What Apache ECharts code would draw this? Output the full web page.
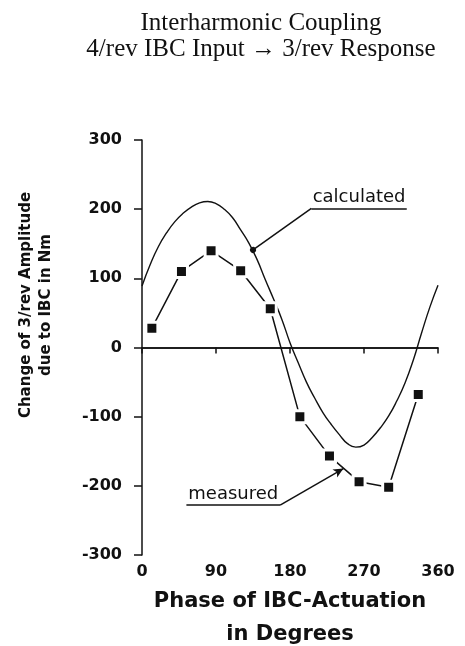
<!DOCTYPE html>
<html lang="en">
<head>
<meta charset="UTF-8">
<title>Interharmonic Coupling</title>
<style>
    html, body { margin: 0; padding: 0; background: #fff; }
    #main { width: 465px; height: 646px; }
</style>
</head>
<body>
<div id="main"></div>
<script src="https://cdn.jsdelivr.net/npm/echarts@6/dist/echarts.min.js"></script>
<script>
    // calculated curve, every 10 deg
    var calcPhase = [0, 10, 20, 30, 40, 50, 60, 70, 80, 90, 100, 110, 120,
        130, 140, 150, 160, 170, 180, 190, 200, 210, 220, 230, 240,
        250, 260, 270, 280, 290, 300, 310, 320, 330, 340, 350, 360];
    var calcValue = [89, 120, 146, 166, 182, 194, 203, 209, 211, 208, 200, 188, 170,
        151, 127, 98, 70, 41, 7, -22, -50, -73, -94, -111, -126,
        -139, -144, -141, -130, -116, -99, -77, -51, -18, 21, 58, 90];

    // measured points
    var measPhase = [12, 48, 84, 120, 156, 192, 228, 264, 300, 336];
    var measValue = [28, 110, 140, 111, 56, -100, -157, -194, -202, -68];

    var black = '#111';
    var sans = 'DejaVu Sans';

    function pairs(xs, ys) {
        return xs.map(function (x, i) { return [x, ys[i]]; });
    }

    var myChart = echarts.init(document.getElementById('main'));

    myChart.setOption({
        animation: false,
        backgroundColor: '#fff',
        title: {
            text: 'Interharmonic Coupling\n4/rev IBC Input \u2192 3/rev Response',
            left: 256,
            top: 5,
            textAlign: 'center',
            textStyle: {
                fontFamily: 'Liberation Serif',
                fontWeight: 'normal',
                fontSize: 25,
                lineHeight: 26,
                color: black
            }
        },
        grid: { left: 142, right: 27, top: 140, bottom: 91, outerBoundsMode: 'none' },
        xAxis: {
            type: 'value',
            min: 0,
            max: 360,
            interval: 90,
            name: 'Phase of IBC-Actuation\nin Degrees',
            nameLocation: 'middle',
            nameGap: 22,
            nameTextStyle: {
                fontFamily: sans, fontWeight: 'bold', fontSize: 21,
                lineHeight: 33, color: black
            },
            axisLine: { lineStyle: { color: black, width: 1.5 } },
            axisTick: { length: 6, lineStyle: { color: black, width: 1.5 } },
            axisLabel: {
                margin: 9, fontFamily: sans, fontWeight: 'bold', fontSize: 16, color: black
            },
            splitLine: { show: false }
        },
        yAxis: {
            type: 'value',
            min: -300,
            max: 300,
            interval: 100,
            axisLine: { show: true, lineStyle: { color: black, width: 1.5 } },
            axisTick: { show: true, length: 8, lineStyle: { color: black, width: 1.5 } },
            axisLabel: {
                margin: 20, fontFamily: sans, fontWeight: 'bold', fontSize: 16, color: black
            },
            splitLine: { show: false }
        },
        graphic: [{
            type: 'text',
            x: 36,
            y: 305,
            rotation: Math.PI / 2,
            style: {
                text: 'Change of 3/rev Amplitude\ndue to IBC in Nm',
                font: 'bold 15px "DejaVu Sans"',
                lineHeight: 20,
                align: 'center',
                verticalAlign: 'middle',
                fill: black
            }
        }],
        series: [
            {
                name: 'calculated',
                type: 'line',
                data: pairs(calcPhase, calcValue),
                smooth: true,
                showSymbol: false,
                lineStyle: { color: black, width: 1.4 },
                z: 2,
                markLine: {
                    silent: true,
                    symbol: ['none', 'none'],
                    label: { show: false },
                    lineStyle: { color: black, width: 1.5, type: 'solid' },
                    data: [
                        { yAxis: 0 },
                        [
                            { coord: [135, 141], symbol: 'circle', symbolSize: 6 },
                            { coord: [206, 201], symbol: 'none' }
                        ],
                        [
                            {
                                coord: [206, 201],
                                label: {
                                    show: true,
                                    position: 'insideMiddleTop',
                                    formatter: 'calculated',
                                    distance: 2,
                                    fontFamily: sans,
                                    fontSize: 18,
                                    color: black
                                }
                            },
                            { coord: [322, 201] }
                        ]
                    ]
                }
            },
            {
                name: 'measured',
                type: 'line',
                data: pairs(measPhase, measValue),
                symbol: 'rect',
                symbolSize: 12,
                itemStyle: { color: black, borderColor: '#fff', borderWidth: 3 },
                lineStyle: { color: black, width: 1.5 },
                z: 3,
                markLine: {
                    silent: true,
                    symbol: ['none', 'none'],
                    label: { show: false },
                    lineStyle: { color: black, width: 1.5, type: 'solid' },
                    data: [
                        [
                            { coord: [168, -228], symbol: 'none' },
                            { coord: [245, -175], symbol: 'arrow', symbolSize: [7, 10] }
                        ],
                        [
                            {
                                coord: [54, -228],
                                label: {
                                    show: true,
                                    position: 'insideMiddleTop',
                                    formatter: 'measured',
                                    distance: 2,
                                    fontFamily: sans,
                                    fontSize: 18,
                                    color: black
                                }
                            },
                            { coord: [168, -228] }
                        ]
                    ]
                }
            }
        ]
    });
</script>
</body>
</html>
